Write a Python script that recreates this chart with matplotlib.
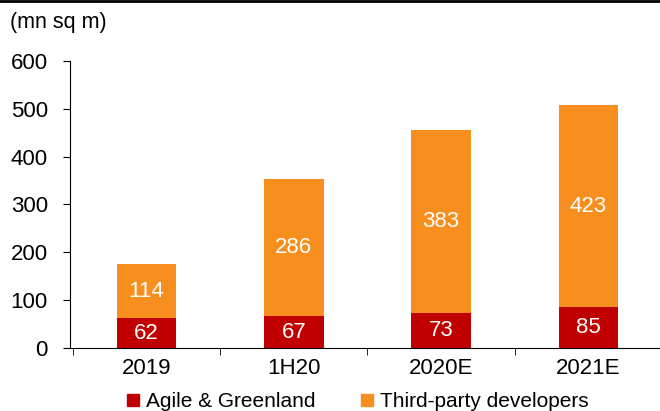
import matplotlib.pyplot as plt
from matplotlib.lines import Line2D

periods = ["2019", "1H20", "2020E", "2021E"]
agile = [62, 67, 73, 85]
third_party = [114, 286, 383, 423]

red = "#C00000"
orange = "#F78F1E"

plt.rcParams["font.family"] = ["Liberation Sans", "DejaVu Sans"]

fig = plt.figure(figsize=(6.6, 4.11), dpi=100)
ax = fig.add_axes([0.106, 0.153, 0.897, 0.699])

x = list(range(len(periods)))
ax.bar(x, agile, width=0.405, color=red)
ax.bar(x, third_party, width=0.405, bottom=agile, color=orange)

for i in x:
    ax.text(i, agile[i] / 2, str(agile[i]), ha="center", va="center",
            color="white", fontsize=16)
    ax.text(i, agile[i] + third_party[i] / 2, str(third_party[i]),
            ha="center", va="center", color="white", fontsize=16)

ax.set_ylim(0, 600)
ax.set_xlim(-0.52, 3.5)
ax.set_yticks(range(0, 601, 100))
ax.tick_params(axis="y", labelsize=16, length=5, direction="out", pad=11)

ax.set_xticks(x)
ax.set_xticklabels(periods)
ax.tick_params(axis="x", which="major", length=0, labelsize=16, pad=7)
ax.set_xticks([-0.5, 0.5, 1.5, 2.5], minor=True)
ax.tick_params(axis="x", which="minor", length=5, direction="out")

for s in ["top", "right"]:
    ax.spines[s].set_visible(False)

fig.text(0.015, 0.945, "(mn sq m)", fontsize=15.5, ha="left", va="center")

handles = [Line2D([], [], marker="s", color=red, linestyle="", markersize=8),
           Line2D([], [], marker="s", color=orange, linestyle="", markersize=8)]
fig.legend(handles, ["Agile & Greenland", "Third-party developers"],
           loc="center", bbox_to_anchor=(0.542, 0.022), ncol=2, frameon=False,
           fontsize=15, handlelength=0.6, handletextpad=0.3, columnspacing=2.2)

fig.add_artist(Line2D([0, 1], [0.998, 0.998], color="black", linewidth=2,
                      transform=fig.transFigure))

fig.savefig("out.png", dpi=100)
